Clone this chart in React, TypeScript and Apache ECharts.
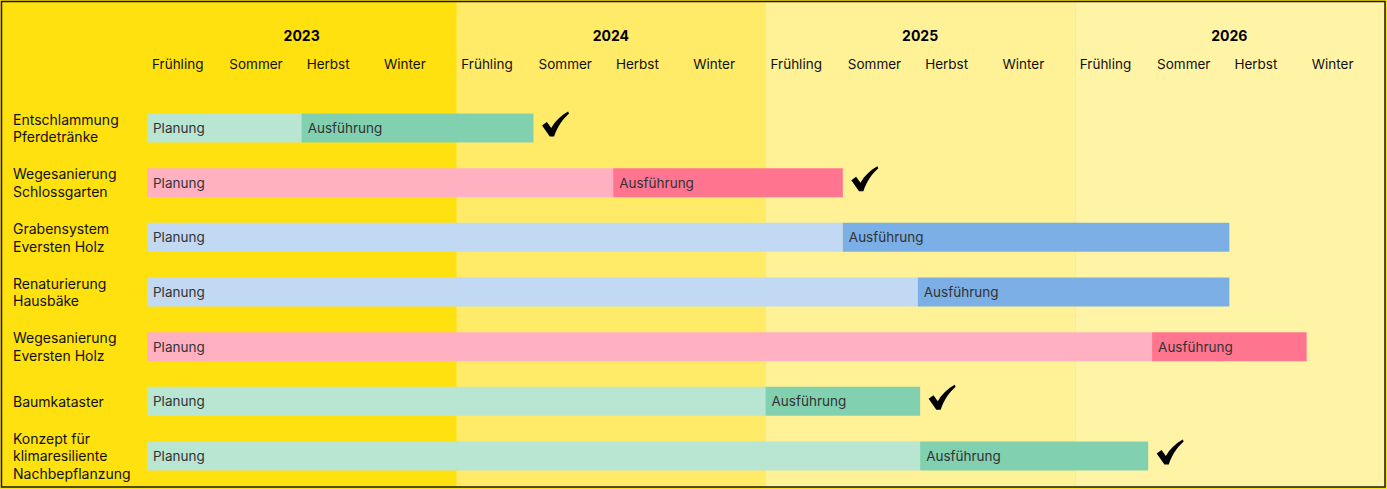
import React, { useEffect, useRef } from "react";
import * as echarts from "echarts";

const tasks = [
  "Entschlammung\nPferdetränke",
  "Wegesanierung\nSchlossgarten",
  "Grabensystem\nEversten Holz",
  "Renaturierung\nHausbäke",
  "Wegesanierung\nEversten Holz",
  "Baumkataster",
  "Konzept für\nklimaresiliente\nNachbepflanzung",
];
// quarters counted from start of 2023 (Frühling 2023 = 0)
const planEnd = [2, 6.03, 9, 9.97, 13, 8, 10];
const execEnd = [5, 9, 14, 14, 15, 10, 12.95];
const done = [true, true, false, false, false, true, true];
const palette = ["green", "pink", "blue", "blue", "pink", "green", "green"];
const years = ["2023", "2024", "2025", "2026"];
const seasons = ["Frühling", "Sommer", "Herbst", "Winter"];

const planColors: Record<string, string> = { green: "#B9E6D3", pink: "#FFB1C2", blue: "#C1D9F2" };
const execColors: Record<string, string> = { green: "#81D1B1", pink: "#FF7590", blue: "#7BAFE6" };
const yearBandColors = ["#FFE10F", "#FFEB68", "#FFF196", "#FFF4A6"];

const FONT = "Inter, 'Noto Sans', sans-serif";
const CHECK = "path://M0,14 L5,10.5 L9.5,16.5 C13.5,9.5 19.5,4 27,0 L28,2 C21.5,7.5 16,15 12.5,25 L8,25 Z";

export default function App() {
  const ref = useRef<HTMLDivElement>(null);
  useEffect(() => {
    if (!ref.current) return;
    const chart = echarts.init(ref.current, null, { renderer: "svg" });
    const labelStyle = {
      show: true,
      position: "insideLeft" as const,
      distance: 6,
      color: "#333",
      fontSize: 13.5,
      fontFamily: FONT,
      formatter: (p: any) => p.seriesName,
    };
    chart.setOption({
      animation: false,
      backgroundColor: "transparent",
      grid: [
        { left: 147, right: 2, top: 100.7, bottom: 5.7 },
        { left: 147, right: 2, top: 1, bottom: 2 },
      ],
      xAxis: [
        {
          gridIndex: 0,
          type: "value",
          position: "top",
          z: 10,
          min: 0,
          max: 16,
          interval: 1,
          axisLine: { show: false },
          axisTick: { show: false },
          splitLine: { show: false },
          axisLabel: {
            align: "left",
            margin: 30,
            padding: [0, 0, 0, 5],
            color: "#111",
            fontSize: 13.5,
            fontFamily: FONT,
            formatter: (v: number) => (v < 16 ? seasons[Math.round(v) % 4] : ""),
          },
        },
        {
          gridIndex: 0,
          type: "value",
          position: "top",
          z: 10,
          min: 0,
          max: 16,
          interval: 2,
          axisLine: { show: false },
          axisTick: { show: false },
          splitLine: { show: false },
          axisLabel: {
            margin: 58,
            color: "#000",
            fontSize: 14,
            fontWeight: "bold",
            fontFamily: FONT,
            formatter: (v: number) => (Math.round(v) % 4 === 2 ? years[(Math.round(v) - 2) / 4] : ""),
          },
        },
        {
          gridIndex: 1,
          type: "value",
          min: 0,
          max: 16,
          show: false,
        },
      ],
      yAxis: [
        {
          gridIndex: 0,
          type: "category",
          inverse: true,
          z: 10,
          data: tasks,
          axisLine: { show: false },
          axisTick: { show: false },
          splitLine: { show: false },
          axisLabel: {
            align: "left",
            margin: 134,
            color: "#111",
            fontSize: 14,
            lineHeight: 17.5,
            fontFamily: FONT,
          },
        },
        { gridIndex: 1, type: "value", min: 0, max: 1, show: false },
      ],
      series: [
        {
          type: "line",
          xAxisIndex: 2,
          yAxisIndex: 1,
          data: [],
          z: -1,
          silent: true,
          markArea: {
            silent: true,
            data: years.map((y, i) => [
              { xAxis: i * 4, itemStyle: { color: yearBandColors[i], opacity: 1 } },
              { xAxis: i * 4 + 4 },
            ]),
          },
        },
        {
          name: "Planung",
          type: "bar",
          stack: "t",
          barWidth: 29,
          z: 3,
          label: labelStyle,
          data: planEnd.map((v, i) => ({ value: v, itemStyle: { color: planColors[palette[i]] } })),
        },
        {
          name: "Ausführung",
          type: "bar",
          stack: "t",
          barWidth: 29,
          z: 3,
          label: labelStyle,
          data: execEnd.map((v, i) => ({
            value: v - planEnd[i],
            itemStyle: { color: execColors[palette[i]] },
          })),
        },
        {
          type: "scatter",
          z: 4,
          silent: true,
          symbol: CHECK,
          symbolSize: [27, 25],
          symbolOffset: [22, -4],
          itemStyle: { color: "#000", opacity: 1 },
          data: execEnd.map((v, i) => [v, i]).filter((_, i) => done[i]),
        },
      ],
      graphic: [
        {
          type: "rect",
          z: 100,
          silent: true,
          shape: { x: 1.5, y: 1.5, width: 1383.5, height: 485.5 },
          style: { fill: "none", stroke: "#1a1a1a", lineWidth: 1.5 },
        },
      ],
    });
    return () => chart.dispose();
  }, []);
  return (
    <div
      ref={ref}
      style={{
        position: "absolute",
        left: 0,
        top: 0,
        width: 1387,
        height: 489,
        background: "#FFE10F",
      }}
    />
  );
}
